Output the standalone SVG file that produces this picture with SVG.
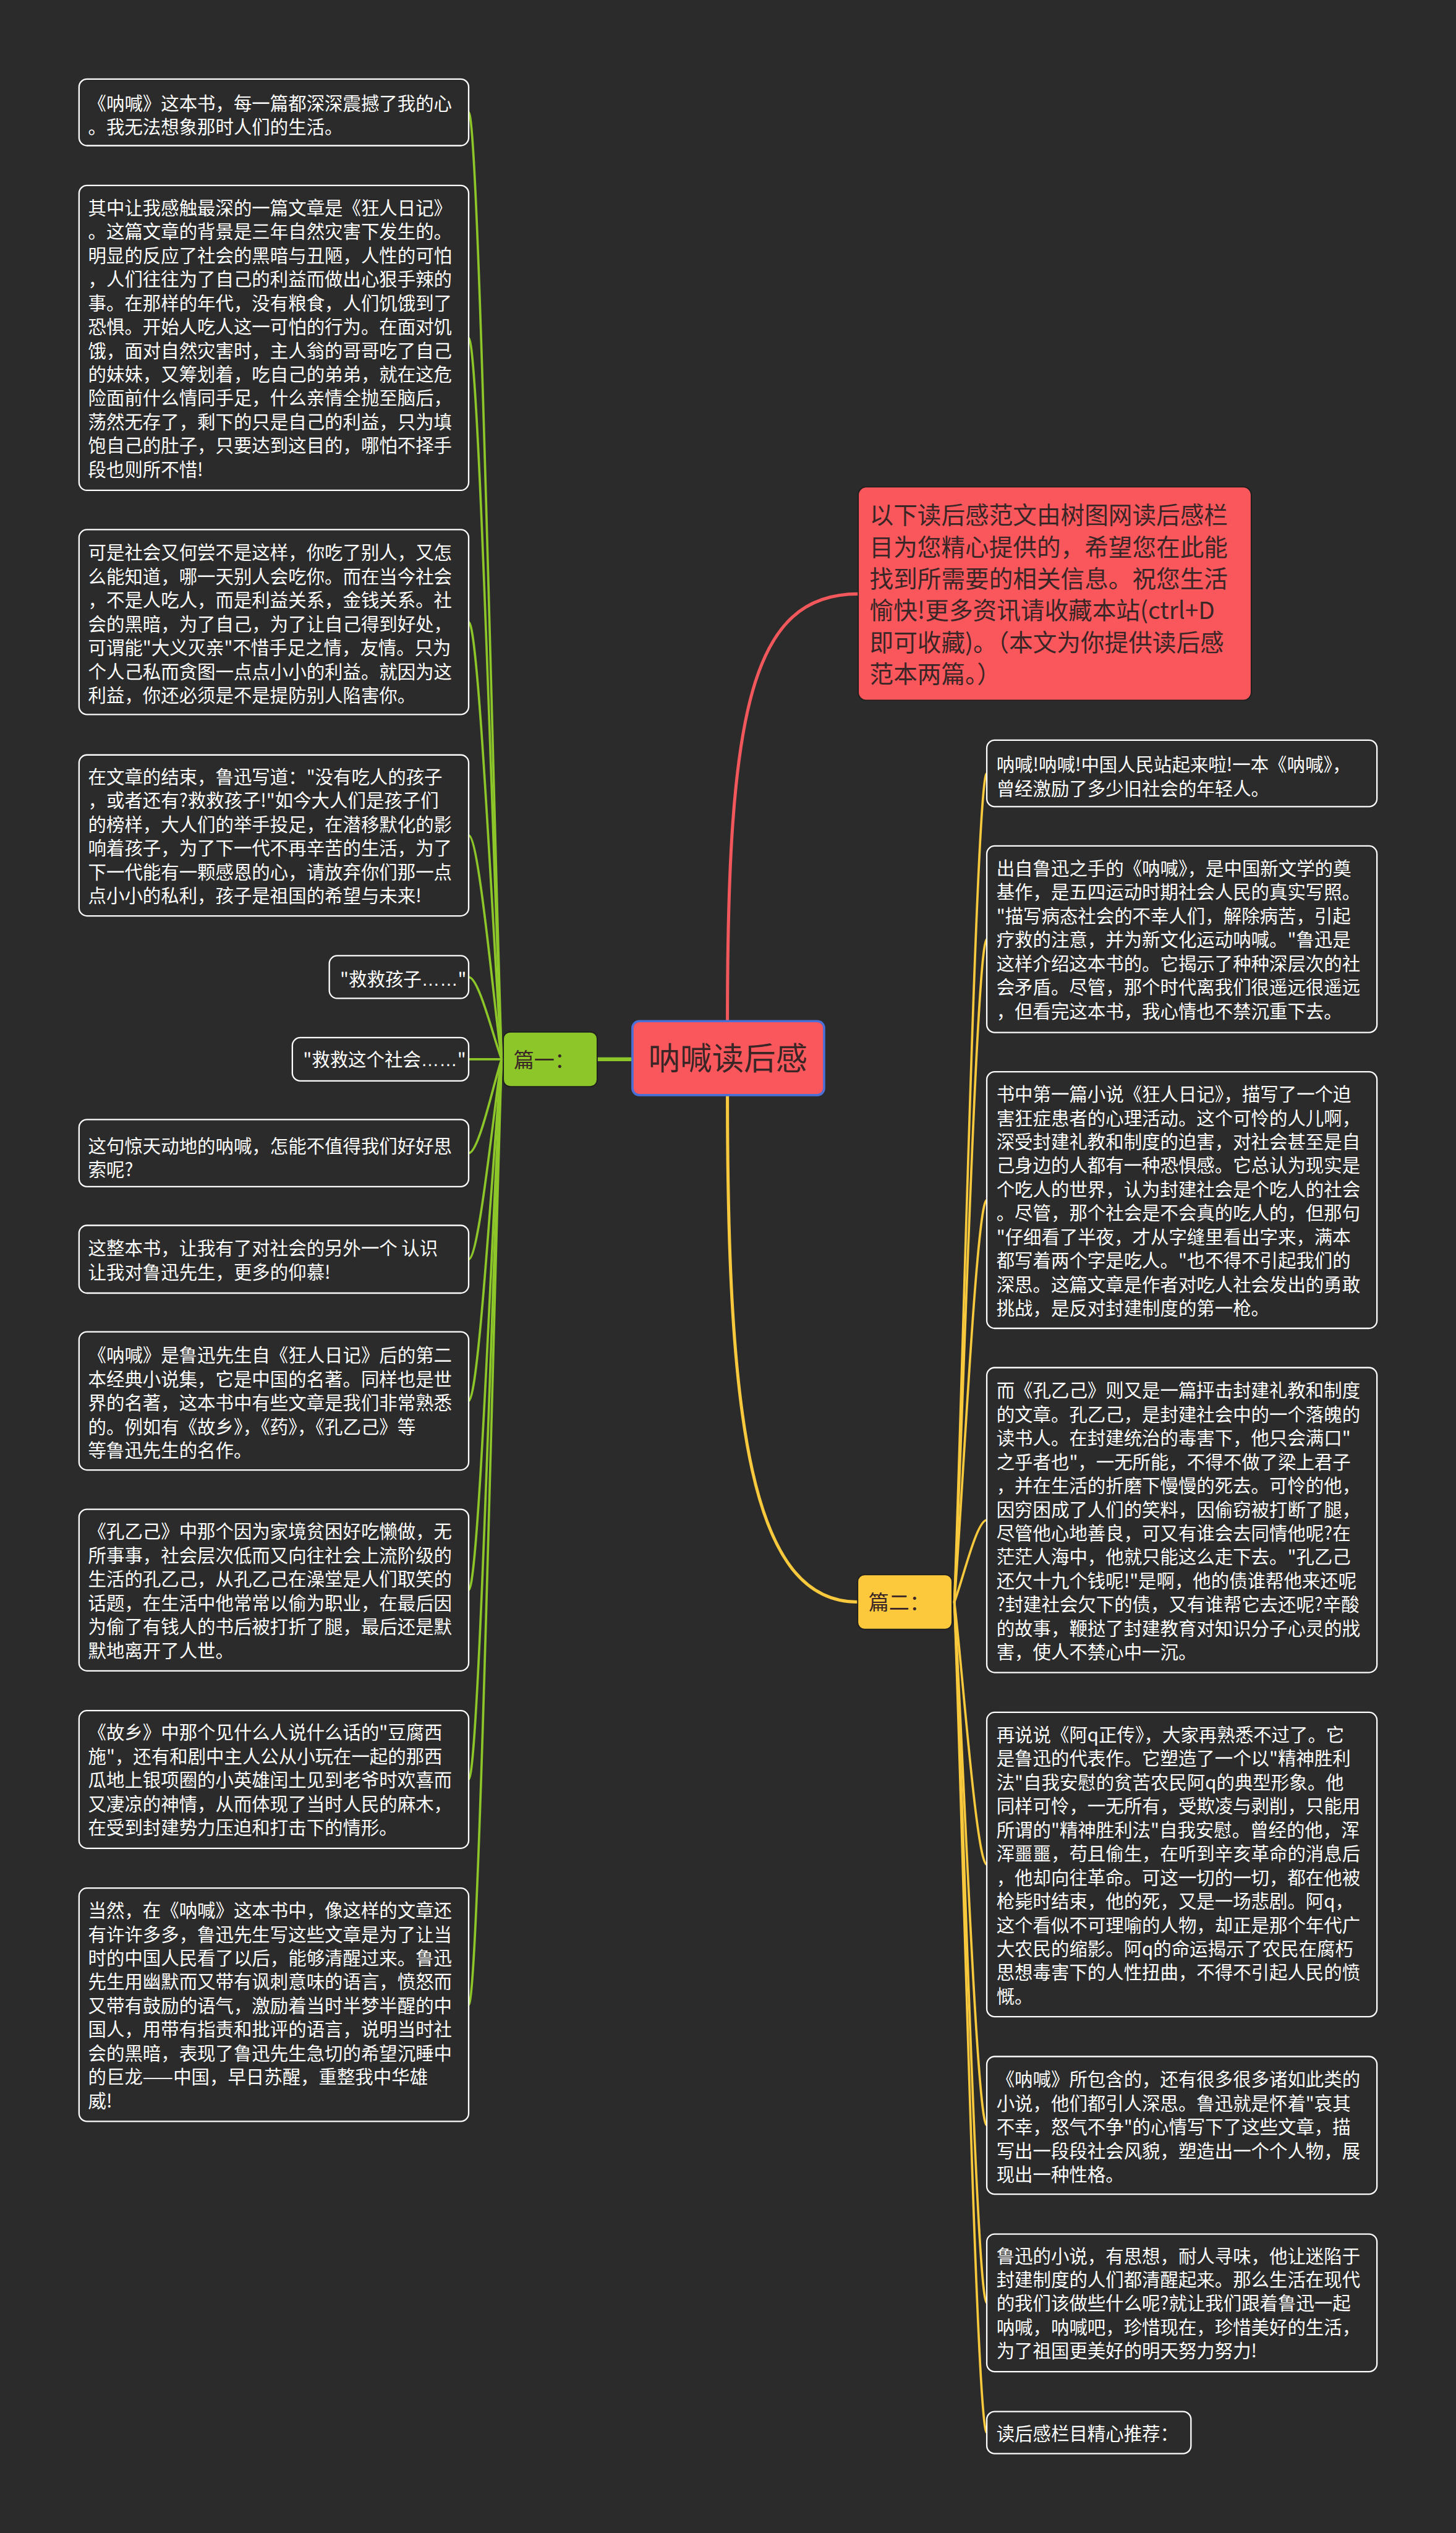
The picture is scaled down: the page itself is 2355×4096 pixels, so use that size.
<svg xmlns="http://www.w3.org/2000/svg" width="2355" height="4096" viewBox="0 0 2355 4096">
<style>
.box{fill:#2b2b2b;stroke:#ffffff;stroke-width:2.5}
.t{fill:#ffffff;font-size:32px;font-family:"Noto Sans CJK SC","Noto Sans",sans-serif}
.dk{fill:#3a2626;font-family:"Noto Sans CJK SC","Noto Sans",sans-serif}
.lat{font-family:"Liberation Sans",sans-serif}
.g{fill:none;stroke:#8cc629;stroke-width:4;stroke-linecap:round}
.y{fill:none;stroke:#f8c93c;stroke-width:4;stroke-linecap:round}
</style>
<rect x="0" y="0" width="2355" height="4096" fill="#2b2b2b"/>
<g transform="scale(0.919922)">
<g id="connectors">
<path d="M1279 1795 C1279 1250 1320 1044 1509 1044" fill="none" stroke="#f2575b" stroke-width="5.5"/>
<path d="M1279 1925 C1279 2500 1320 2816 1508 2816" fill="none" stroke="#f8c93c" stroke-width="5.5"/>
<path d="M1050 1862 L1112 1862" fill="none" stroke="#8cc629" stroke-width="7"/>
<path class="g" d="M824 197.5 C842 197.5 868 1445.9 882 1862"/>
<path class="g" d="M824 594 C842 594 868 1545 882 1862"/>
<path class="g" d="M824 1093.5 C842 1093.5 868 1669.9 882 1862"/>
<path class="g" d="M824 1468.5 C842 1468.5 868 1763.6 882 1862"/>
<path class="g" d="M824 1717.5 C842 1717.5 868 1825.9 882 1862"/>
<path class="g" d="M824 1862 L882 1862"/>
<path class="g" d="M824 2027 C842 2027 868 1903.25 882 1862"/>
<path class="g" d="M824 2213.5 C842 2213.5 868 1949.9 882 1862"/>
<path class="g" d="M824 2462.5 C842 2462.5 868 2012.1 882 1862"/>
<path class="g" d="M824 2795 C842 2795 868 2095.25 882 1862"/>
<path class="g" d="M824 3128 C842 3128 868 2178.5 882 1862"/>
<path class="g" d="M824 3524 C842 3524 868 2277.5 882 1862"/>
<path class="y" d="M1735 1359.5 C1717 1359.5 1692 2451.9 1678 2816"/>
<path class="y" d="M1735 1651 C1717 1651 1692 2524.75 1678 2816"/>
<path class="y" d="M1735 2109.5 C1717 2109.5 1692 2639.4 1678 2816"/>
<path class="y" d="M1735 2672 C1717 2672 1692 2780 1678 2816"/>
<path class="y" d="M1735 3277.5 C1717 3277.5 1692 2931.4 1678 2816"/>
<path class="y" d="M1735 3736 C1717 3736 1692 3046 1678 2816"/>
<path class="y" d="M1735 4048 C1717 4048 1692 3124 1678 2816"/>
<path class="y" d="M1735 4276 C1717 4276 1692 3181 1678 2816"/>
</g>
<g id="root">
<rect x="1112" y="1795" width="337" height="130" rx="12" fill="#fa575c" stroke="#4a6fd6" stroke-width="4"/>
<text class="dk" x="1280" y="1881" font-size="56" text-anchor="middle">呐喊读后感</text>
</g>
<g id="intro">
<rect x="1509" y="856" width="691" height="375" rx="14" fill="#fa575c" stroke="#1e1e1e" stroke-width="2"/>
<text class="dk" font-size="42"><tspan x="1529" y="921">以下读后感范文由树图网读后感栏</tspan><tspan x="1529" y="976.8">目为您精心提供的，希望您在此能</tspan><tspan x="1529" y="1032.6">找到所需要的相关信息。祝您生活</tspan><tspan x="1529" y="1088.4">愉快!更多资讯请收藏本站(ctrl+D</tspan><tspan x="1529" y="1144.2">即可收藏)。（本文为你提供读后感</tspan><tspan x="1529" y="1200">范本两篇。）</tspan></text>
</g>
<g id="pian1">
<rect x="885" y="1814" width="165" height="96" rx="12" fill="#8cc629" stroke="#1e1e1e" stroke-width="2"/>
<text class="dk" x="903" y="1876" font-size="36">篇一：</text>
</g>
<g id="pian2">
<rect x="1508" y="2768" width="166" height="96" rx="12" fill="#fdc93c" stroke="#1e1e1e" stroke-width="2"/>
<text class="dk" x="1527" y="2830" font-size="36">篇二：</text>
</g>
<g id="L1"><rect class="box" x="139" y="139" width="685" height="117" rx="14"/>
<text class="t"><tspan x="155" y="193">《呐喊》这本书，每一篇都深深震撼了我的心</tspan><tspan x="155" y="234.8">。我无法想象那时人们的生活。</tspan></text></g>
<g id="L2"><rect class="box" x="139" y="326" width="685" height="536" rx="14"/>
<text class="t"><tspan x="155" y="377">其中让我感触最深的一篇文章是《狂人日记》</tspan><tspan x="155" y="418.8">。这篇文章的背景是三年自然灾害下发生的。</tspan><tspan x="155" y="460.6">明显的反应了社会的黑暗与丑陋，人性的可怕</tspan><tspan x="155" y="502.4">，人们往往为了自己的利益而做出心狠手辣的</tspan><tspan x="155" y="544.2">事。在那样的年代，没有粮食，人们饥饿到了</tspan><tspan x="155" y="586">恐惧。开始人吃人这一可怕的行为。在面对饥</tspan><tspan x="155" y="627.8">饿，面对自然灾害时，主人翁的哥哥吃了自己</tspan><tspan x="155" y="669.6">的妹妹，又筹划着，吃自己的弟弟，就在这危</tspan><tspan x="155" y="711.4">险面前什么情同手足，什么亲情全抛至脑后，</tspan><tspan x="155" y="753.2">荡然无存了，剩下的只是自己的利益，只为填</tspan><tspan x="155" y="795">饱自己的肚子，只要达到这目的，哪怕不择手</tspan><tspan x="155" y="836.8">段也则所不惜!</tspan></text></g>
<g id="L3"><rect class="box" x="139" y="931" width="685" height="325" rx="14"/>
<text class="t"><tspan x="155" y="983">可是社会又何尝不是这样，你吃了别人，又怎</tspan><tspan x="155" y="1024.8">么能知道，哪一天别人会吃你。而在当今社会</tspan><tspan x="155" y="1066.6">，不是人吃人，而是利益关系，金钱关系。社</tspan><tspan x="155" y="1108.4">会的黑暗，为了自己，为了让自己得到好处，</tspan><tspan x="155" y="1150.2">可谓能"大义灭亲"不惜手足之情，友情。只为</tspan><tspan x="155" y="1192">个人己私而贪图一点点小小的利益。就因为这</tspan><tspan x="155" y="1233.8">利益，你还必须是不是提防别人陷害你。</tspan></text></g>
<g id="L4"><rect class="box" x="139" y="1327" width="685" height="283" rx="14"/>
<text class="t"><tspan x="155" y="1377">在文章的结束，鲁迅写道："没有吃人的孩子</tspan><tspan x="155" y="1418.8">，或者还有?救救孩子!"如今大人们是孩子们</tspan><tspan x="155" y="1460.6">的榜样，大人们的举手投足，在潜移默化的影</tspan><tspan x="155" y="1502.4">响着孩子，为了下一代不再辛苦的生活，为了</tspan><tspan x="155" y="1544.2">下一代能有一颗感恩的心，请放弃你们那一点</tspan><tspan x="155" y="1586">点小小的私利，孩子是祖国的希望与未来!</tspan></text></g>
<g id="L5"><rect class="box" x="579" y="1680" width="245" height="75" rx="14"/>
<text class="t" x="598" y="1733">"救救孩子<tspan class="lat">……</tspan>"</text></g>
<g id="L6"><rect class="box" x="514" y="1824" width="310" height="76" rx="14"/>
<text class="t" x="533" y="1874">"救救这个社会<tspan class="lat">……</tspan>"</text></g>
<g id="L7"><rect class="box" x="139" y="1968" width="685" height="118" rx="14"/>
<text class="t"><tspan x="155" y="2026">这句惊天动地的呐喊，怎能不值得我们好好思</tspan><tspan x="155" y="2067.8">索呢?</tspan></text></g>
<g id="L8"><rect class="box" x="139" y="2154" width="685" height="119" rx="14"/>
<text class="t"><tspan x="155" y="2206">这整本书，让我有了对社会的另外一个 认识</tspan><tspan x="155" y="2247.8">让我对鲁迅先生，更多的仰慕!</tspan></text></g>
<g id="L9"><rect class="box" x="139" y="2341" width="685" height="243" rx="14"/>
<text class="t"><tspan x="155" y="2394">《呐喊》是鲁迅先生自《狂人日记》后的第二</tspan><tspan x="155" y="2435.8">本经典小说集，它是中国的名著。同样也是世</tspan><tspan x="155" y="2477.6">界的名著，这本书中有些文章是我们非常熟悉</tspan><tspan x="155" y="2519.4">的。例如有《故乡》，《药》，《孔乙己》等</tspan><tspan x="155" y="2561.2">等鲁迅先生的名作。</tspan></text></g>
<g id="L10"><rect class="box" x="139" y="2653" width="685" height="284" rx="14"/>
<text class="t"><tspan x="155" y="2704">《孔乙己》中那个因为家境贫困好吃懒做，无</tspan><tspan x="155" y="2745.8">所事事，社会层次低而又向往社会上流阶级的</tspan><tspan x="155" y="2787.6">生活的孔乙己，从孔乙己在澡堂是人们取笑的</tspan><tspan x="155" y="2829.4">话题，在生活中他常常以偷为职业，在最后因</tspan><tspan x="155" y="2871.2">为偷了有钱人的书后被打折了腿，最后还是默</tspan><tspan x="155" y="2913">默地离开了人世。</tspan></text></g>
<g id="L11"><rect class="box" x="139" y="3007" width="685" height="242" rx="14"/>
<text class="t"><tspan x="155" y="3057">《故乡》中那个见什么人说什么话的"豆腐西</tspan><tspan x="155" y="3098.8">施"，还有和剧中主人公从小玩在一起的那西</tspan><tspan x="155" y="3140.6">瓜地上银项圈的小英雄闰土见到老爷时欢喜而</tspan><tspan x="155" y="3182.4">又凄凉的神情，从而体现了当时人民的麻木，</tspan><tspan x="155" y="3224.2">在受到封建势力压迫和打击下的情形。</tspan></text></g>
<g id="L12"><rect class="box" x="139" y="3319" width="685" height="410" rx="14"/>
<text class="t"><tspan x="155" y="3370">当然，在《呐喊》这本书中，像这样的文章还</tspan><tspan x="155" y="3411.8">有许许多多，鲁迅先生写这些文章是为了让当</tspan><tspan x="155" y="3453.6">时的中国人民看了以后，能够清醒过来。鲁迅</tspan><tspan x="155" y="3495.4">先生用幽默而又带有讽刺意味的语言，愤怒而</tspan><tspan x="155" y="3537.2">又带有鼓励的语气，激励着当时半梦半醒的中</tspan><tspan x="155" y="3579">国人，用带有指责和批评的语言，说明当时社</tspan><tspan x="155" y="3620.8">会的黑暗，表现了鲁迅先生急切的希望沉睡中</tspan><tspan x="155" y="3662.6">的巨龙——中国，早日苏醒，重整我中华雄</tspan><tspan x="155" y="3704.4">威!</tspan></text></g>
<g id="R1"><rect class="box" x="1735" y="1301" width="686" height="117" rx="14"/>
<text class="t"><tspan x="1752" y="1356">呐喊!呐喊!中国人民站起来啦!一本《呐喊》，</tspan><tspan x="1752" y="1397.8">曾经激励了多少旧社会的年轻人。</tspan></text></g>
<g id="R2"><rect class="box" x="1735" y="1487" width="686" height="328" rx="14"/>
<text class="t"><tspan x="1752" y="1538">出自鲁迅之手的《呐喊》，是中国新文学的奠</tspan><tspan x="1752" y="1579.8">基作，是五四运动时期社会人民的真实写照。</tspan><tspan x="1752" y="1621.6">"描写病态社会的不幸人们，解除病苦，引起</tspan><tspan x="1752" y="1663.4">疗救的注意，并为新文化运动呐喊。"鲁迅是</tspan><tspan x="1752" y="1705.2">这样介绍这本书的。它揭示了种种深层次的社</tspan><tspan x="1752" y="1747">会矛盾。尽管，那个时代离我们很遥远很遥远</tspan><tspan x="1752" y="1788.8">，但看完这本书，我心情也不禁沉重下去。</tspan></text></g>
<g id="R3"><rect class="box" x="1735" y="1884" width="686" height="451" rx="14"/>
<text class="t"><tspan x="1752" y="1935">书中第一篇小说《狂人日记》，描写了一个迫</tspan><tspan x="1752" y="1976.8">害狂症患者的心理活动。这个可怜的人儿啊，</tspan><tspan x="1752" y="2018.6">深受封建礼教和制度的迫害，对社会甚至是自</tspan><tspan x="1752" y="2060.4">己身边的人都有一种恐惧感。它总认为现实是</tspan><tspan x="1752" y="2102.2">个吃人的世界，认为封建社会是个吃人的社会</tspan><tspan x="1752" y="2144">。尽管，那个社会是不会真的吃人的，但那句</tspan><tspan x="1752" y="2185.8">"仔细看了半夜，才从字缝里看出字来，满本</tspan><tspan x="1752" y="2227.6">都写着两个字是吃人。"也不得不引起我们的</tspan><tspan x="1752" y="2269.4">深思。这篇文章是作者对吃人社会发出的勇敢</tspan><tspan x="1752" y="2311.2">挑战，是反对封建制度的第一枪。</tspan></text></g>
<g id="R4"><rect class="box" x="1735" y="2404" width="686" height="536" rx="14"/>
<text class="t"><tspan x="1752" y="2456">而《孔乙己》则又是一篇抨击封建礼教和制度</tspan><tspan x="1752" y="2497.8">的文章。孔乙己，是封建社会中的一个落魄的</tspan><tspan x="1752" y="2539.6">读书人。在封建统治的毒害下，他只会满口"</tspan><tspan x="1752" y="2581.4">之乎者也"，一无所能，不得不做了梁上君子</tspan><tspan x="1752" y="2623.2">，并在生活的折磨下慢慢的死去。可怜的他，</tspan><tspan x="1752" y="2665">因穷困成了人们的笑料，因偷窃被打断了腿，</tspan><tspan x="1752" y="2706.8">尽管他心地善良，可又有谁会去同情他呢?在</tspan><tspan x="1752" y="2748.6">茫茫人海中，他就只能这么走下去。"孔乙己</tspan><tspan x="1752" y="2790.4">还欠十九个钱呢!"是啊，他的债谁帮他来还呢</tspan><tspan x="1752" y="2832.2">?封建社会欠下的债，又有谁帮它去还呢?辛酸</tspan><tspan x="1752" y="2874">的故事，鞭挞了封建教育对知识分子心灵的戕</tspan><tspan x="1752" y="2915.8">害，使人不禁心中一沉。</tspan></text></g>
<g id="R5"><rect class="box" x="1735" y="3010" width="686" height="535" rx="14"/>
<text class="t"><tspan x="1752" y="3061">再说说《阿q正传》，大家再熟悉不过了。它</tspan><tspan x="1752" y="3102.8">是鲁迅的代表作。它塑造了一个以"精神胜利</tspan><tspan x="1752" y="3144.6">法"自我安慰的贫苦农民阿q的典型形象。他</tspan><tspan x="1752" y="3186.4">同样可怜，一无所有，受欺凌与剥削，只能用</tspan><tspan x="1752" y="3228.2">所谓的"精神胜利法"自我安慰。曾经的他，浑</tspan><tspan x="1752" y="3270">浑噩噩，苟且偷生，在听到辛亥革命的消息后</tspan><tspan x="1752" y="3311.8">，他却向往革命。可这一切的一切，都在他被</tspan><tspan x="1752" y="3353.6">枪毙时结束，他的死，又是一场悲剧。阿q，</tspan><tspan x="1752" y="3395.4">这个看似不可理喻的人物，却正是那个年代广</tspan><tspan x="1752" y="3437.2">大农民的缩影。阿q的命运揭示了农民在腐朽</tspan><tspan x="1752" y="3479">思想毒害下的人性扭曲，不得不引起人民的愤</tspan><tspan x="1752" y="3520.8">慨。</tspan></text></g>
<g id="R6"><rect class="box" x="1735" y="3615" width="686" height="242" rx="14"/>
<text class="t"><tspan x="1752" y="3667">《呐喊》所包含的，还有很多很多诸如此类的</tspan><tspan x="1752" y="3708.8">小说，他们都引人深思。鲁迅就是怀着"哀其</tspan><tspan x="1752" y="3750.6">不幸，怒气不争"的心情写下了这些文章，描</tspan><tspan x="1752" y="3792.4">写出一段段社会风貌，塑造出一个个人物，展</tspan><tspan x="1752" y="3834.2">现出一种性格。</tspan></text></g>
<g id="R7"><rect class="box" x="1735" y="3927" width="686" height="242" rx="14"/>
<text class="t"><tspan x="1752" y="3977">鲁迅的小说，有思想，耐人寻味，他让迷陷于</tspan><tspan x="1752" y="4018.8">封建制度的人们都清醒起来。那么生活在现代</tspan><tspan x="1752" y="4060.6">的我们该做些什么呢?就让我们跟着鲁迅一起</tspan><tspan x="1752" y="4102.4">呐喊，呐喊吧，珍惜现在，珍惜美好的生活，</tspan><tspan x="1752" y="4144.2">为了祖国更美好的明天努力努力!</tspan></text></g>
<g id="R8"><rect class="box" x="1735" y="4239" width="359" height="74" rx="14"/>
<text class="t" x="1752" y="4290">读后感栏目精心推荐：</text></g>
</g>
</svg>
